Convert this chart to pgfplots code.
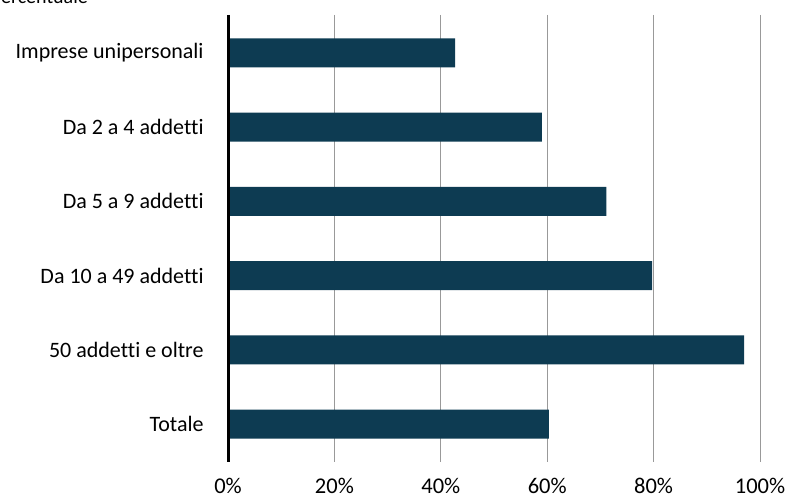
\documentclass[border=0pt]{standalone}
\usepackage{pgfplots}
\pgfplotsset{compat=1.18}
\usepackage{fontspec}
\setmainfont{Carlito}[Ligatures={NoCommon}]
\definecolor{bar}{HTML}{0D3B52}
\begin{document}
\begin{tikzpicture}[x=1bp,y=1bp]
\path[use as bounding box] (0,0) rectangle (791,500);
\node[anchor=base east, inner sep=0pt, font=\fontsize{20bp}{24bp}\selectfont] at (88,496) {Percentuale};
\begin{axis}[
  at={(228bp,38bp)}, anchor=south west,
  scale only axis, width=532bp, height=447bp,
  xmin=0, xmax=100, ymin=-0.51, ymax=5.51,
  y dir=reverse, clip=false,
  xbar, bar width=29bp,
  axis line style={draw=none},
  xtick={0,20,40,60,80,100},
  xticklabels={0\%,20\%,40\%,60\%,80\%,100\%},
  ytick={0,1,2,3,4,5},
  yticklabels={Imprese unipersonali,Da 2 a 4 addetti,Da 5 a 9 addetti,Da 10 a 49 addetti,50 addetti e oltre,Totale},
  tick style={draw=none},
  xmajorgrids, grid style={draw=gray!80, line width=1bp},
  x tick label style={anchor=base, inner sep=0pt, yshift=-31bp, font=\fontsize{22.5bp}{27bp}\selectfont},
  y tick label style={anchor=east, inner sep=0pt, xshift=-20bp, font=\fontsize{22bp}{26bp}\selectfont},
]
\addplot[fill=bar, draw=none] coordinates {(42.7,0) (59.0,1) (71.1,2) (79.7,3) (97.0,4) (60.3,5)};
\draw[black, line width=3bp] (axis cs:0,-0.51) -- (axis cs:0,5.51);
\end{axis}
\end{tikzpicture}
\end{document}
